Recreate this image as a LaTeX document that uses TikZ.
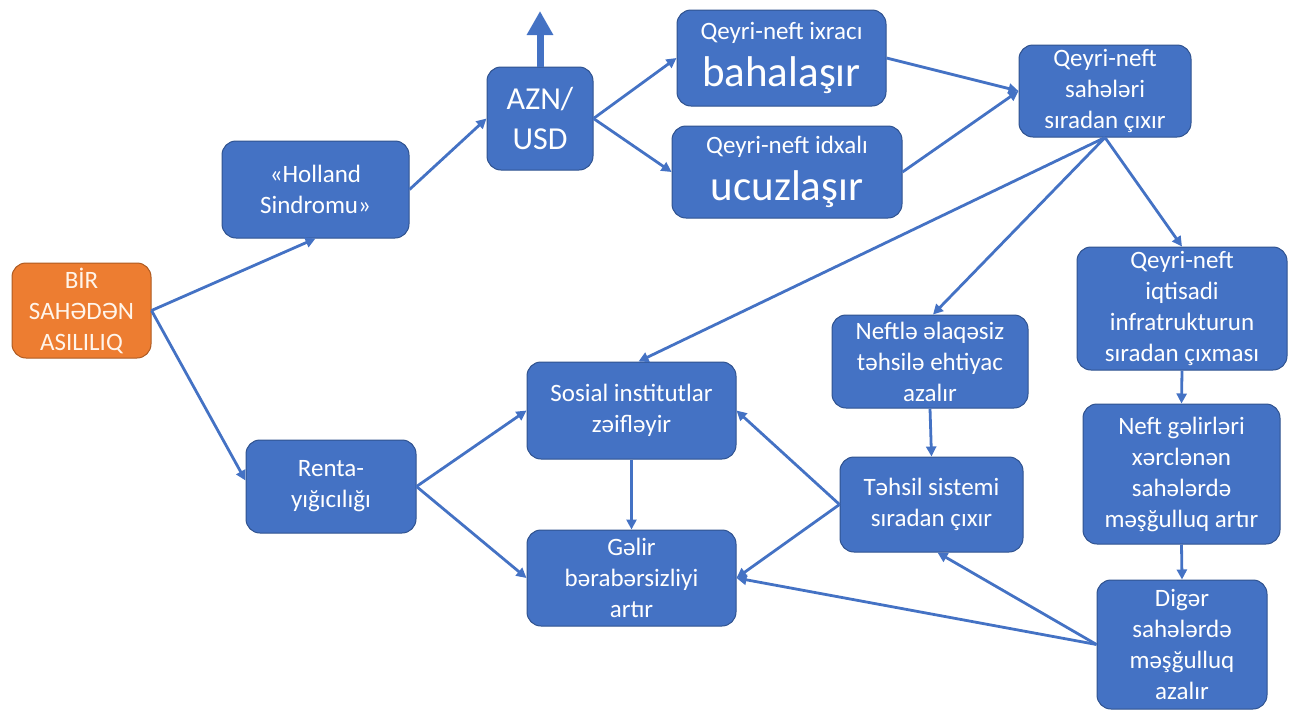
\documentclass[tikz,border=0pt]{standalone}
\usepackage{fontspec}
\setmainfont{Carlito}
\usetikzlibrary{arrows.meta,calc}
\definecolor{bfill}{HTML}{4472C4}
\definecolor{bdraw}{HTML}{2F528F}
\definecolor{ofill}{HTML}{ED7D31}
\definecolor{odraw}{HTML}{AE5A21}
\definecolor{arrc}{HTML}{4472C4}
\begin{document}
\begin{tikzpicture}[x=1pt,y=-1pt,
  box/.style={draw=bdraw, line width=1pt, fill=bfill, rounded corners=14pt, text=white,
    align=center, inner sep=0pt, font=\fontsize{25}{31}\selectfont},
  obox/.style={box, draw=odraw, fill=ofill, text=white!92!orange},
  arr/.style={draw=arrc, line width=2.8pt, -{Triangle[length=10pt,width=10pt]}}]
\useasboundingbox (0,0) rectangle (1290,710);

\node[obox, minimum width=139pt, minimum height=95pt] (bir) at (81.5,310.5) {BİR\\SAHƏDƏN\\ASILILIQ};
\node[box, minimum width=187pt, minimum height=97pt] (holl) at (315.5,189.5) {«Holland\\Sindromu»};
\node[box, minimum width=170pt, minimum height=93pt] (renta) at (331,486.5) {Renta-\\yığıcılığı};
\node[box, minimum width=106pt, minimum height=103pt, font=\fontsize{32}{40}\selectfont] (azn) at (540,118.5) {AZN/\\USD};
\node[box, minimum width=209pt, minimum height=96pt] (ixr) at (781.5,58) {Qeyri-neft ixracı\\[12pt]\fontsize{43}{45}\selectfont bahalaşır};
\node[box, minimum width=230pt, minimum height=92pt] (idx) at (787,172) {Qeyri-neft idxalı\\[12pt]\fontsize{43}{45}\selectfont ucuzlaşır};
\node[box, minimum width=172pt, minimum height=92pt] (sah) at (1105,91) {Qeyri-neft\\sahələri\\sıradan çıxır};
\node[box, minimum width=210pt, minimum height=123pt] (infra) at (1182,308.5) {Qeyri-neft\\iqtisadi\\infratrukturun\\sıradan çıxması};
\node[box, minimum width=196pt, minimum height=93pt] (neftle) at (930,361.5) {Neftlə əlaqəsiz\\təhsilə ehtiyac\\azalır};
\node[box, minimum width=183pt, minimum height=95pt] (tehsil) at (931.5,504.5) {Təhsil sistemi\\sıradan çıxır};
\node[box, minimum width=197pt, minimum height=140pt] (gel1) at (1181.5,474) {Neft gəlirləri\\xərclənən\\sahələrdə\\məşğulluq artır};
\node[box, minimum width=170pt, minimum height=129pt] (diger) at (1182,644.5) {Digər\\sahələrdə\\məşğulluq\\azalır};
\node[box, minimum width=209pt, minimum height=97pt] (sos) at (631.5,410.5) {Sosial institutlar\\zəifləyir};
\node[box, minimum width=209pt, minimum height=96pt] (gelir) at (631.5,578) {Gəlir\\bərabərsizliyi\\artır};

\coordinate (up) at (540,11);
\draw[draw=arrc, line width=7pt, -{Triangle[length=24pt,width=25pt]}] (azn.north) -- (up);

\draw[arr] (bir.east) -- (holl.south);
\draw[arr] (bir.east) -- ([yshift=6pt]renta.west);
\draw[arr] (holl.east) -- (azn.west);
\draw[arr] (azn.east) -- (ixr.west);
\draw[arr] (azn.east) -- (idx.west);
\draw[arr] (ixr.east) -- (sah.west);
\draw[arr] (idx.east) -- (sah.west);
\draw[arr] (sah.south) -- ([xshift=7pt]sos.north);
\draw[arr] (sah.south) -- ([xshift=3pt]neftle.north);
\draw[arr] (sah.south) -- (infra.north);
\draw[arr] (infra.south) -- (gel1.north);
\draw[arr] (gel1.south) -- (diger.north);
\draw[arr] (neftle.south) -- (tehsil.north);
\draw[arr] (tehsil.west) -- (sos.east);
\draw[arr] (tehsil.west) -- (gelir.east);
\draw[arr] (diger.west) -- ([xshift=6pt]tehsil.south);
\draw[arr] (diger.west) -- (gelir.east);
\draw[arr] (renta.east) -- (sos.west);
\draw[arr] (renta.east) -- (gelir.west);
\draw[arr] (sos.south) -- (gelir.north);
\end{tikzpicture}
\end{document}
